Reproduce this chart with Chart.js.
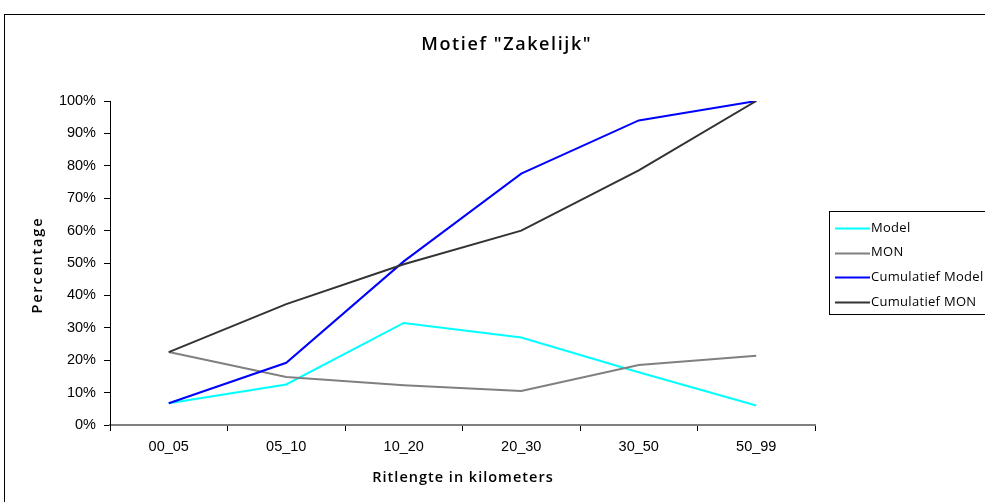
<!DOCTYPE html>
<html>
<head>
<meta charset="utf-8">
<script src="https://cdn.jsdelivr.net/npm/chart.js@4"></script>
<style>
  html, body { margin: 0; padding: 0; background: #fff; overflow: hidden; }
  #wrap { position: relative; width: 985px; height: 502px; }
</style>
</head>
<body>
<div id="wrap"><canvas id="chart" width="985" height="502"></canvas></div>
<script>
// ---- data (percentages) ----
const categories = ['00_05', '05_10', '10_20', '20_30', '30_50', '50_99'];
const modelValues = [6.7, 12.5, 31.5, 27.0, 16.3, 6.0];
const monValues = [22.5, 14.8, 12.3, 10.5, 18.5, 21.4];
const cumModelValues = [6.7, 19.2, 50.5, 77.6, 94.0, 100];
const cumMonValues = [22.5, 37.3, 49.6, 60.0, 78.6, 100];
const yTicks = [0, 10, 20, 30, 40, 50, 60, 70, 80, 90, 100];
const chartTitle = 'Motief "Zakelijk"';
const xTitle = 'Ritlengte in kilometers';
const yTitle = 'Percentage';

const labelFont = "'Open Sans', Lato, 'Noto Sans', sans-serif";
const tickFont = "'Liberation Sans', Arial, sans-serif";

function spacedText(ctx, text, x, y, spacing) {
  ctx.letterSpacing = spacing + 'px';
  // trailing spacing shifts centred text, so nudge it back
  ctx.fillText(text, x + spacing / 2, y);
  ctx.letterSpacing = '0px';
}

// frame, titles and legend box (excel-style, legend sits on the right)
const framePlugin = {
  id: 'frame',
  beforeDraw(chart) {
    const ctx = chart.ctx;
    ctx.save();
    ctx.fillStyle = '#fff';
    ctx.fillRect(0, 0, chart.width, chart.height);
    ctx.strokeStyle = '#000';
    ctx.lineWidth = 1;
    ctx.strokeRect(4.5, 14.5, 1000, 600);
    ctx.restore();
  },
  afterDraw(chart) {
    const ctx = chart.ctx;
    const area = chart.chartArea;
    ctx.save();
    ctx.fillStyle = '#000';
    ctx.textAlign = 'center';
    ctx.textBaseline = 'middle';
    // chart title
    ctx.font = '600 18px ' + labelFont;
    spacedText(ctx, chartTitle, 506, 45, 1.6);
    // axis titles
    ctx.font = '600 14.5px ' + labelFont;
    spacedText(ctx, xTitle, (area.left + area.right) / 2, 478, 1);
    ctx.save();
    ctx.translate(38, (area.top + area.bottom) / 2 + 3);
    ctx.rotate(-Math.PI / 2);
    spacedText(ctx, yTitle, 0, 0, 1.8);
    ctx.restore();
    // legend
    ctx.strokeStyle = '#000';
    ctx.lineWidth = 1;
    ctx.strokeRect(829.5, 211.5, 200, 103);
    ctx.font = '13px ' + labelFont;
    ctx.textAlign = 'left';
    chart.data.datasets.forEach((ds, i) => {
      const y = 228 + i * 24.7;
      ctx.strokeStyle = ds.borderColor;
      ctx.lineWidth = 2;
      ctx.beginPath();
      ctx.moveTo(835, Math.round(y) + 0.5);
      ctx.lineTo(870, Math.round(y) + 0.5);
      ctx.stroke();
      ctx.letterSpacing = '0.3px';
      ctx.fillText(ds.label, 871, y);
      ctx.letterSpacing = '0px';
    });
    ctx.restore();
  }
};

function series(label, data, color, order) {
  return {
    label, data, order,
    borderColor: color,
    backgroundColor: color,
    borderWidth: 2,
    pointRadius: 0,
    pointHoverRadius: 0,
    tension: 0,
    fill: false
  };
}

new Chart(document.getElementById('chart'), {
  type: 'line',
  data: {
    labels: categories,
    datasets: [
      series('Model', modelValues, '#00ffff', 4),
      series('MON', monValues, '#808080', 3),
      series('Cumulatief Model', cumModelValues, '#0000ff', 2),
      series('Cumulatief MON', cumMonValues, '#333333', 1)
    ]
  },
  options: {
    responsive: false,
    animation: false,
    devicePixelRatio: 1,
    layout: { padding: { left: 0, right: 170, top: 101, bottom: 0 } },
    plugins: {
      legend: { display: false },
      tooltip: { enabled: false },
      title: { display: false }
    },
    scales: {
      x: {
        type: 'category',
        offset: true,
        afterFit(scale) { scale.height = 77; },
        border: { display: true, color: '#808080', width: 2 },
        grid: { offset: true, drawOnChartArea: false, drawTicks: true, tickLength: 6, color: '#000' },
        ticks: { color: '#000', padding: 7, maxRotation: 0, font: { family: tickFont, size: 14.5 } }
      },
      y: {
        min: 0,
        max: 100,
        afterFit(scale) { scale.width = 110; },
        afterBuildTicks(scale) { scale.ticks = yTicks.map(v => ({ value: v })); },
        border: { display: true, color: '#000', width: 1 },
        grid: { drawOnChartArea: false, drawTicks: true, tickLength: 6, color: '#000' },
        ticks: {
          color: '#000',
          padding: 8,
          font: { family: tickFont, size: 14.5 },
          callback: v => v + '%'
        }
      }
    }
  },
  plugins: [framePlugin]
});
</script>
</body>
</html>
